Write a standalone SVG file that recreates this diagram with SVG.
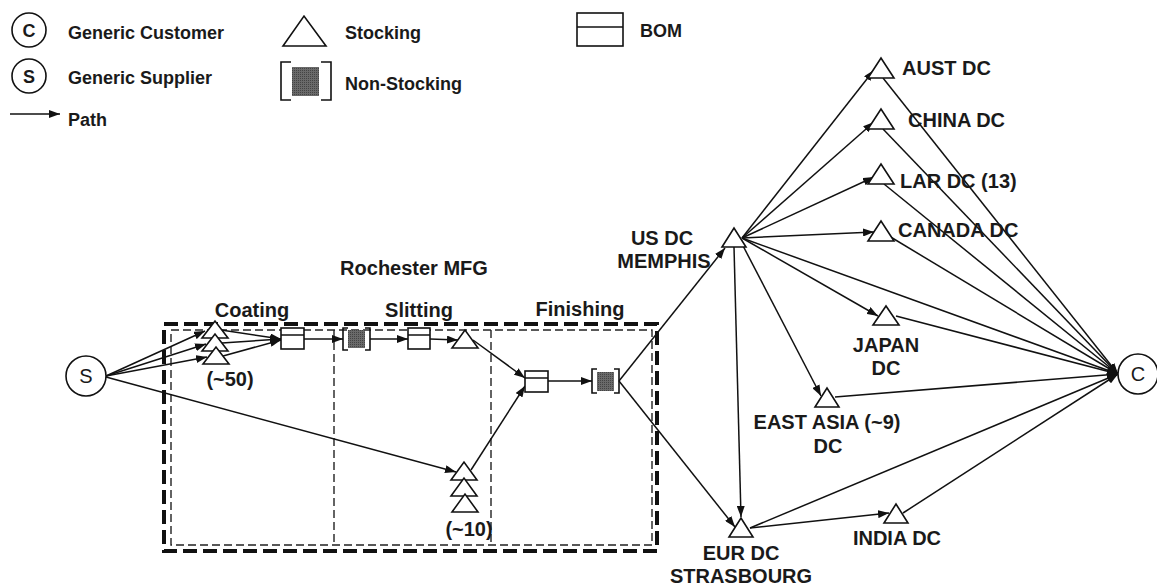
<svg xmlns="http://www.w3.org/2000/svg" width="1157" height="588" viewBox="0 0 1157 588">
<defs>
<marker id="arr" markerUnits="userSpaceOnUse" markerWidth="11" markerHeight="8" refX="11" refY="4" orient="auto"><path d="M0,0 L11,4 L0,8 z" fill="#111"/></marker>
<pattern id="dots" width="2" height="2" patternUnits="userSpaceOnUse"><rect width="2" height="2" fill="#6a6a6a"/><rect width="1" height="1" fill="#444"/></pattern>
</defs>
<style>
text{font-family:"Liberation Sans",Arial,sans-serif;font-weight:bold;fill:#1a1a1a}
.lg{font-size:18px}
.lb{font-size:20px}
.c{text-anchor:middle}
.tri{fill:#fff;stroke:#111;stroke-width:1.6}
.bom{fill:#fff;stroke:#111;stroke-width:1.6}
.br{fill:none;stroke:#111;stroke-width:1.6}
.sq{fill:url(#dots);stroke:none}
.circ{fill:#fff;stroke:#111;stroke-width:1.6}
.ln{stroke:#111;stroke-width:1.5;fill:none}
.ar{stroke:#111;stroke-width:1.5;fill:none;marker-end:url(#arr)}
.rg{font-family:"Liberation Sans",Arial,sans-serif;font-weight:normal;font-size:20px}
</style>
<rect width="1157" height="588" fill="#fff"/>

<g id="legend">
<circle class="circ" cx="29" cy="30" r="17"/><text class="lg c" x="29" y="37">C</text>
<text class="lg" x="68" y="39">Generic Customer</text>
<circle class="circ" cx="29" cy="76" r="17"/><text class="lg c" x="29" y="83">S</text>
<text class="lg" x="68" y="84">Generic Supplier</text>
<line class="ar" x1="10" y1="114" x2="60" y2="114"/>
<text class="lg" x="68" y="126">Path</text>
<polygon class="tri" points="283,46 304,16 326,46"/>
<text class="lg" x="345" y="39">Stocking</text>
<rect class="sq" x="292" y="67" width="27" height="29"/>
<path class="br" d="M291,62 H281 V100 H291 M321,62 H331 V100 H321"/>
<text class="lg" x="345" y="90">Non-Stocking</text>
<rect class="bom" x="577" y="13" width="46" height="33"/><line class="ln" x1="577" y1="27" x2="623" y2="27"/>
<text class="lg" x="640" y="37">BOM</text>
</g>

<g id="rochester">
<text class="lb c" x="414" y="275">Rochester MFG</text>
<text class="lb c" x="252" y="317">Coating</text>
<text class="lb c" x="419" y="317">Slitting</text>
<text class="lb c" x="580" y="316">Finishing</text>
<rect x="164" y="324" width="493" height="227" fill="none" stroke="#111" stroke-width="4" stroke-dasharray="14,6"/>
<rect x="171" y="330" width="481" height="215" fill="none" stroke="#222" stroke-width="1.4" stroke-dasharray="8,4"/>
<line x1="334" y1="330" x2="334" y2="545" stroke="#222" stroke-width="1.4" stroke-dasharray="8,4"/>
<line x1="491" y1="330" x2="491" y2="545" stroke="#222" stroke-width="1.4" stroke-dasharray="8,4"/>
</g>

<g id="connectors">
<line class="ar" x1="106" y1="376" x2="205" y2="331"/>
<line class="ar" x1="106" y1="376" x2="206" y2="344"/>
<line class="ar" x1="106" y1="376" x2="207" y2="357"/>
<line class="ar" x1="106" y1="377" x2="456" y2="472"/>
<line class="ar" x1="221" y1="330" x2="281" y2="339"/>
<line class="ar" x1="222" y1="343" x2="281" y2="339"/>
<line class="ar" x1="223" y1="356" x2="281" y2="340"/>
<line class="ar" x1="304" y1="339" x2="343" y2="339"/>
<line class="ar" x1="370" y1="339" x2="408" y2="339"/>
<line class="ar" x1="430" y1="339" x2="458" y2="340"/>
<line class="ar" x1="473" y1="340" x2="525" y2="378"/>
<line class="ar" x1="471" y1="470" x2="525" y2="386"/>
<line class="ar" x1="548" y1="381" x2="592" y2="381"/>
<line class="ar" x1="619" y1="381" x2="725" y2="248"/>
<line class="ar" x1="619" y1="381" x2="735" y2="527"/>
<line class="ar" x1="742" y1="238" x2="874" y2="70"/>
<line class="ar" x1="742" y1="238" x2="874" y2="122"/>
<line class="ar" x1="742" y1="238" x2="874" y2="177"/>
<line class="ar" x1="742" y1="238" x2="874" y2="232"/>
<line class="ar" x1="742" y1="238" x2="878" y2="316"/>
<line class="ar" x1="740" y1="240" x2="821" y2="396"/>
<line class="ar" x1="734" y1="247" x2="741" y2="517"/>
<line class="ar" x1="742" y1="238" x2="1118" y2="374"/>
<line class="ar" x1="883" y1="78" x2="1118" y2="374"/>
<line class="ar" x1="883" y1="129" x2="1118" y2="374"/>
<line class="ar" x1="884" y1="184" x2="1118" y2="374"/>
<line class="ar" x1="889" y1="236" x2="1118" y2="374"/>
<line class="ar" x1="896" y1="316" x2="1118" y2="374"/>
<line class="ar" x1="835" y1="397" x2="1118" y2="374"/>
<line class="ar" x1="750" y1="528" x2="1118" y2="374"/>
<line class="ar" x1="750" y1="528" x2="889" y2="513"/>
<line class="ar" x1="903" y1="513" x2="1118" y2="374"/>
</g>

<g id="supplier"><circle class="circ" cx="86" cy="376" r="20"/><text class="rg c" x="86" y="383">S</text></g>
<g id="customer"><circle class="circ" cx="1138" cy="374" r="20"/><text class="rg c" x="1138" y="381">C</text></g>

<g id="coating-stock">
<polygon class="tri" points="202,338 215,321 228,338"/>
<polygon class="tri" points="202,351 215,334 228,351"/>
<polygon class="tri" points="203,364 216,347 229,364"/>
<text class="lb c" x="230" y="386">(~50)</text>
</g>
<g id="bom1"><rect class="bom" x="281" y="328" width="23" height="21"/><line class="ln" x1="281" y1="335" x2="304" y2="335"/></g>
<g id="nonstock1"><rect class="sq" x="348" y="330" width="17" height="18"/><path class="br" d="M348,328 H343 V350 H348 M365,328 H370 V350 H365"/></g>
<g id="bom2"><rect class="bom" x="408" y="328" width="22" height="21"/><line class="ln" x1="408" y1="335" x2="430" y2="335"/></g>
<g id="slit-stock"><polygon class="tri" points="452,348 465,330 478,348"/></g>
<g id="slit-stock10">
<polygon class="tri" points="451,480 464,462 477,480"/>
<polygon class="tri" points="451,496 464,478 477,496"/>
<polygon class="tri" points="452,512 465,494 478,512"/>
<text class="lb c" x="469" y="536">(~10)</text>
</g>
<g id="bom3"><rect class="bom" x="525" y="371" width="23" height="21"/><line class="ln" x1="525" y1="378" x2="548" y2="378"/></g>
<g id="nonstock2"><rect class="sq" x="597" y="372" width="17" height="19"/><path class="br" d="M597,369 H592 V393 H597 M614,369 H619 V393 H614"/></g>

<g id="us-dc"><polygon class="tri" points="722,247 734,228 746,247"/>
<text class="lb c" x="662" y="245">US DC</text><text class="lb c" x="664" y="268">MEMPHIS</text></g>
<g id="aust-dc"><polygon class="tri" points="868,78 881,58 894,78"/><text class="lb" x="902" y="75">AUST DC</text></g>
<g id="china-dc"><polygon class="tri" points="868,129 881,109 894,129"/><text class="lb" x="908" y="127">CHINA DC</text></g>
<g id="lar-dc"><polygon class="tri" points="868,184 881,164 894,184"/><text class="lb" x="900" y="188">LAR DC (13)</text></g>
<g id="canada-dc"><polygon class="tri" points="868,241 881,221 894,241"/><text class="lb" x="898" y="237">CANADA DC</text></g>
<g id="japan-dc"><polygon class="tri" points="873,325 886,306 899,325"/><text class="lb c" x="886" y="352">JAPAN</text><text class="lb c" x="886" y="375">DC</text></g>
<g id="eastasia-dc"><polygon class="tri" points="815,407 827,388 839,407"/><text class="lb c" x="827" y="429">EAST ASIA (~9)</text><text class="lb c" x="828" y="453">DC</text></g>
<g id="eur-dc"><polygon class="tri" points="729,537 741,518 753,537"/><text class="lb c" x="741" y="560">EUR DC</text><text class="lb c" x="741" y="583">STRASBOURG</text></g>
<g id="india-dc"><polygon class="tri" points="884,523 896,504 908,523"/><text class="lb c" x="897" y="545">INDIA DC</text></g>
</svg>
